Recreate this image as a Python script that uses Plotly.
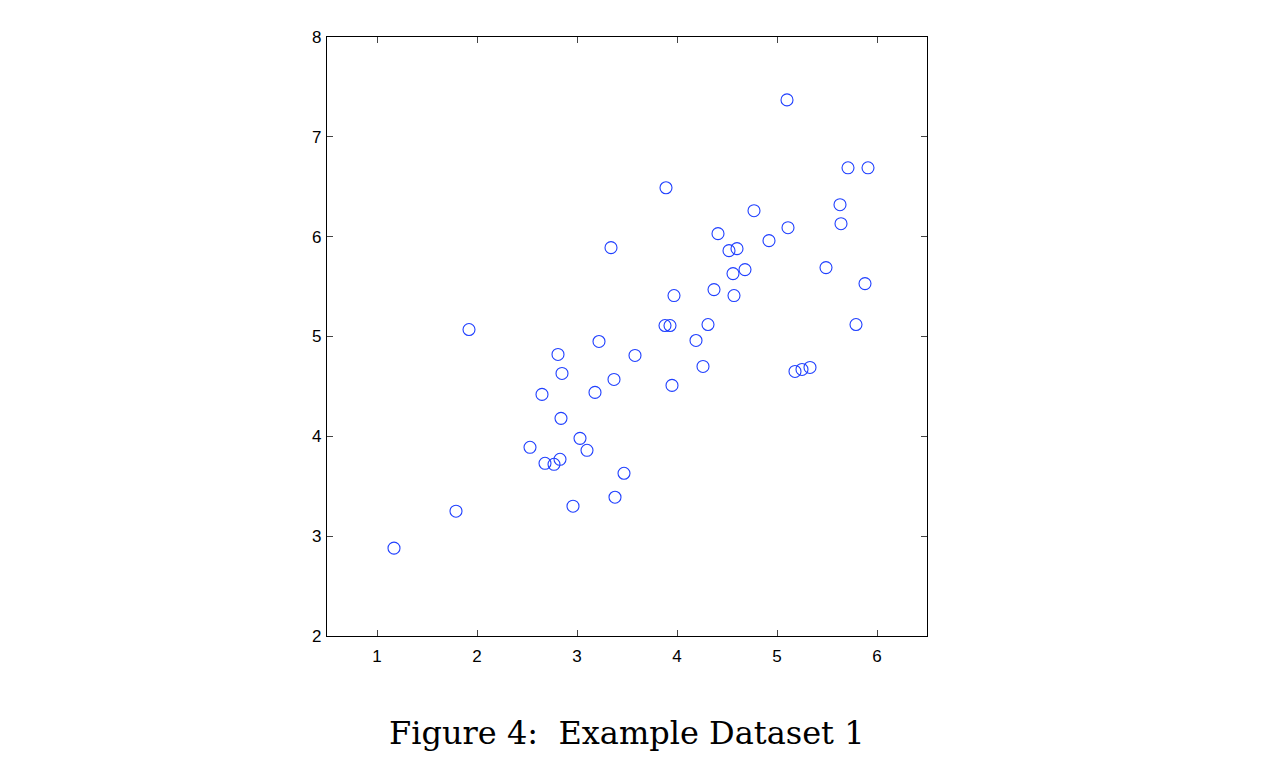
import plotly.graph_objects as go

# Example Dataset 1 points
x1 = [1.17, 1.79, 1.92, 2.53, 2.68, 2.77, 2.83, 2.65, 2.81, 2.85,
      2.84, 2.96, 3.03, 3.10, 3.18, 3.22, 3.34, 3.37, 3.38, 3.47,
      3.58, 3.89, 3.88, 3.93, 3.95, 3.97, 4.19, 4.26, 4.31, 4.37,
      4.41, 4.52, 4.56, 4.57, 4.60, 4.68, 4.77, 4.92, 5.10, 5.11,
      5.18, 5.25, 5.33, 5.49, 5.63, 5.64, 5.71, 5.79, 5.88, 5.91]
x2 = [2.88, 3.25, 5.07, 3.89, 3.73, 3.72, 3.77, 4.42, 4.82, 4.63,
      4.18, 3.30, 3.98, 3.86, 4.44, 4.95, 5.89, 4.57, 3.39, 3.63,
      4.81, 6.49, 5.11, 5.11, 4.51, 5.41, 4.96, 4.70, 5.12, 5.47,
      6.03, 5.86, 5.63, 5.41, 5.88, 5.67, 6.26, 5.96, 7.37, 6.09,
      4.65, 4.67, 4.69, 5.69, 6.32, 6.13, 6.69, 5.12, 5.53, 6.69]

xticks = [1, 2, 3, 4, 5, 6]
yticks = [2, 3, 4, 5, 6, 7, 8]

fig = go.Figure()
fig.add_trace(go.Scatter(
    x=x1, y=x2, mode="markers",
    marker=dict(symbol="circle-open", size=12, color="#1f3fff",
                line=dict(width=1.1, color="#1f3fff")),
    showlegend=False, hoverinfo="x+y"
))

axis_style = dict(
    showgrid=False, zeroline=False,
    showline=True, linecolor="black", linewidth=1.3, mirror="allticks",
    ticks="inside", ticklen=6, tickwidth=1, tickcolor="#444",
    tickfont=dict(family="Liberation Sans, Arial, sans-serif", size=17, color="black"),
)

fig.update_xaxes(range=[0.5, 6.5], tickvals=xticks, ticklabelstandoff=4, **axis_style)
fig.update_yaxes(range=[2, 8], tickvals=yticks, ticklabelstandoff=1, **axis_style)

fig.add_annotation(
    text="Figure 4:  Example Dataset 1",
    xref="paper", yref="paper", x=0.5, y=-0.162,
    xanchor="center", yanchor="middle", showarrow=False,
    font=dict(family="DejaVu Serif, serif", size=32, color="black"),
)

# page body adds an 8px offset, margins compensate for it
fig.update_layout(
    width=1270, height=774,
    margin=dict(l=319, r=351, t=29, b=146),
    plot_bgcolor="white", paper_bgcolor="white",
)

fig.write_html("out.html")
